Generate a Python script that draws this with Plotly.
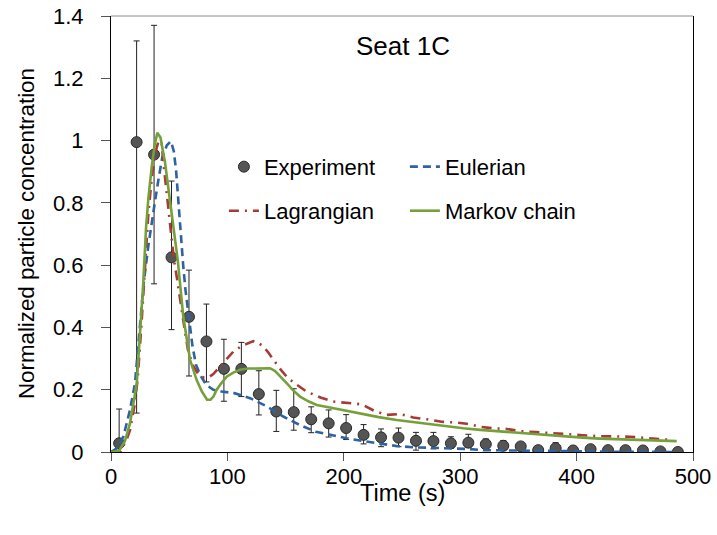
import plotly.graph_objects as go

# ---------------- data ----------------
exp_time = [7, 22, 37, 52, 67, 82, 97, 112, 127, 142, 157, 172, 187, 202, 217, 232, 247,
            262, 277, 292, 307, 322, 337, 352, 367, 382, 397, 412, 427, 442, 457, 472, 487]
exp_value = [0.028, 0.995, 0.955, 0.625, 0.434, 0.355, 0.267, 0.267, 0.186, 0.130, 0.128,
             0.105, 0.092, 0.077, 0.055, 0.047, 0.046, 0.036, 0.035, 0.028, 0.030, 0.025,
             0.020, 0.018, 0.006, 0.012, 0.005, 0.009, 0.006, 0.006, 0.005, 0.002, 0.000]
exp_err_plus = [0.110, 0.325, 0.415, 0.245, 0.150, 0.120, 0.095, 0.085, 0.075, 0.068, 0.075,
                0.040, 0.043, 0.043, 0.033, 0.027, 0.031, 0.027, 0.028, 0.021, 0.027, 0.017,
                0.017, 0.007, 0.004, 0.018, 0.003, 0.003, 0.003, 0.003, 0.003, 0.002, 0.002]
exp_err_minus = [0.028, 0.870, 0.415, 0.232, 0.190, 0.130, 0.104, 0.089, 0.067, 0.064, 0.058,
                 0.043, 0.044, 0.037, 0.029, 0.030, 0.029, 0.030, 0.025, 0.016, 0.015, 0.010,
                 0.010, 0.006, 0.004, 0.010, 0.003, 0.003, 0.003, 0.003, 0.003, 0.002, 0.000]

eul_time = [0, 5, 10.6, 16.3, 20.6, 25, 28, 32, 35, 38, 41, 44, 48, 51.5, 54, 56, 58, 60, 62,
            64, 67, 70, 73, 77, 82, 88, 95, 106, 120, 134, 148, 162, 176, 188, 202.5, 216.8,
            231, 245.4, 261, 275.5, 289.8, 305.6, 320, 350, 389, 430, 486]
eul_value = [0, 0.012, 0.049, 0.135, 0.22, 0.42, 0.54, 0.66, 0.74, 0.81, 0.88, 0.945, 0.985,
             0.998, 0.965, 0.90, 0.80, 0.69, 0.60, 0.52, 0.43, 0.34, 0.28, 0.245, 0.215, 0.20,
             0.194, 0.189, 0.172, 0.146, 0.114, 0.087, 0.065, 0.055, 0.044, 0.035, 0.026,
             0.019, 0.015, 0.014, 0.012, 0.010, 0.006, 0.004, 0.003, 0.001, 0.0]

lag_time = [0, 8, 13.5, 16.3, 20.6, 23, 26, 29, 32, 35, 38, 41, 43.5, 45, 48, 51, 54, 57, 60,
            63, 66, 70, 75, 80, 84, 87.9, 93.6, 100, 105, 112, 118, 122.3, 126, 130.8, 135,
            139.4, 145, 150.9, 158, 168.1, 180, 191, 203, 215.4, 226.8, 236.8, 248.3, 259.7,
            271.2, 284, 295.5, 305.6, 317, 328.4, 340, 351.4, 365, 388.6, 405, 417.3, 430,
            446, 460, 471.6, 480]
lag_value = [0, 0.002, 0.04, 0.07, 0.157, 0.24, 0.40, 0.58, 0.76, 0.88, 0.96, 1.0, 0.99, 0.93,
             0.83, 0.72, 0.62, 0.55, 0.47, 0.40, 0.33, 0.28, 0.25, 0.238, 0.24, 0.25, 0.274,
             0.30, 0.322, 0.34, 0.35, 0.356, 0.352, 0.339, 0.32, 0.296, 0.268, 0.242, 0.22,
             0.194, 0.175, 0.162, 0.158, 0.153, 0.131, 0.119, 0.122, 0.111, 0.105, 0.097,
             0.095, 0.091, 0.081, 0.076, 0.074, 0.067, 0.064, 0.057, 0.054, 0.051, 0.050,
             0.049, 0.045, 0.041, 0.039]

mkv_time = [0, 7, 12, 16.3, 19, 22.1, 24.9, 27.7, 30.1, 32, 35, 37.5, 39.8, 42.5, 46.4, 50.7,
            54.4, 57.3, 62.1, 67.9, 73.6, 78, 82.5, 85.5, 88, 90.8, 95, 99.4, 105, 110.8, 118,
            125.2, 131, 136.6, 141, 145.5, 150.9, 156.5, 162.4, 170, 176.7, 188, 200, 216.8,
            230, 245.4, 260, 274, 288, 302.7, 317, 331.4, 345, 357, 372, 388.6, 405, 420,
            435, 445.9, 460, 475, 486]
mkv_value = [0, 0.004, 0.035, 0.092, 0.15, 0.22, 0.38, 0.54, 0.72, 0.81, 0.916, 0.985, 1.025,
             1.01, 0.93, 0.81, 0.703, 0.617, 0.435, 0.296, 0.231, 0.195, 0.168, 0.168, 0.178,
             0.20, 0.222, 0.242, 0.255, 0.264, 0.268, 0.269, 0.27, 0.269, 0.26, 0.243, 0.221,
             0.198, 0.178, 0.162, 0.151, 0.143, 0.134, 0.122, 0.112, 0.103, 0.096, 0.089,
             0.082, 0.076, 0.071, 0.067, 0.063, 0.060, 0.055, 0.049, 0.046, 0.043, 0.041,
             0.040, 0.038, 0.036, 0.035]

x_ticks = [0, 100, 200, 300, 400, 500]
y_ticks = [0, 0.2, 0.4, 0.6, 0.8, 1.0, 1.2, 1.4]
y_tick_text = ["0", "0.2", "0.4", "0.6", "0.8", "1", "1.2", "1.4"]

FONT = "Liberation Sans, Arial, sans-serif"

fig = go.Figure()

fig.add_trace(go.Scatter(
    x=exp_time, y=exp_value, mode="markers", name="Experiment", legend="legend",
    marker=dict(size=11, color="#555555", line=dict(color="#2a2a2a", width=1)),
    error_y=dict(type="data", symmetric=False, array=exp_err_plus,
                 arrayminus=exp_err_minus, color="#222222", thickness=1, width=3),
))
fig.add_trace(go.Scatter(
    x=eul_time, y=eul_value, mode="lines", name="Eulerian", legend="legend",
    line=dict(color="#2E62A3", width=2.6, dash="8px,5px"),
))
fig.add_trace(go.Scatter(
    x=lag_time, y=lag_value, mode="lines", name="Lagrangian", legend="legend2",
    line=dict(color="#A63A37", width=2.6, dash="10px,6px,2px,6px"),
))
fig.add_trace(go.Scatter(
    x=mkv_time, y=mkv_value, mode="lines", name="Markov chain", legend="legend2",
    line=dict(color="#76A03A", width=2.6),
))

fig.update_layout(
    width=717, height=535,
    margin=dict(l=111, r=24, t=16, b=83),
    paper_bgcolor="white", plot_bgcolor="white",
    font=dict(family=FONT, size=22, color="black"),
    showlegend=True,
    legend=dict(orientation="h", x=0.194, y=0.654, xanchor="left", yanchor="middle",
                entrywidth=136, bgcolor="rgba(0,0,0,0)", font=dict(size=22), itemwidth=30),
    legend2=dict(orientation="h", x=0.194, y=0.553, xanchor="left", yanchor="middle",
                 entrywidth=136, bgcolor="rgba(0,0,0,0)", font=dict(size=22), itemwidth=30),
    annotations=[
        dict(x=251, y=1.303, xref="x", yref="y", text="Seat 1C",
             showarrow=False, font=dict(size=26)),
        dict(x=0.5, y=0, xref="paper", yref="paper", text="Time (s)", showarrow=False,
             yanchor="middle", yshift=-41, font=dict(size=23.5)),
        dict(x=0, y=0.5, xref="paper", yref="paper", text="Normalized particle concentration",
             showarrow=False, textangle=-90, xanchor="center", xshift=-85,
             font=dict(size=22.3)),
    ],
    shapes=[dict(type="line", xref="paper", yref="paper", x0=0, x1=1, y0=1, y1=1,
                 line=dict(color="#8c8c8c", width=1))],
)

fig.update_xaxes(
    range=[0, 500], tickvals=x_ticks, ticks="outside", ticklen=8, tickcolor="#555",
    showline=True, linecolor="black", linewidth=1, showgrid=False, zeroline=False,
    tickfont=dict(size=22), automargin=False, ticklabelstandoff=-3,
)
fig.update_yaxes(
    range=[0, 1.4], tickvals=y_ticks, ticktext=y_tick_text, ticks="outside", ticklen=9,
    tickcolor="#555", showline=True, linecolor="black", linewidth=1, mirror=True,
    showgrid=False, zeroline=False, ticklabelstandoff=13, automargin=False,
    tickfont=dict(size=22),
)

fig.write_html(
    "out.html",
    config={"displayModeBar": False},
    post_script="document.body.style.margin='0';document.body.style.padding='0';"
                "document.body.style.overflow='hidden';",
)
